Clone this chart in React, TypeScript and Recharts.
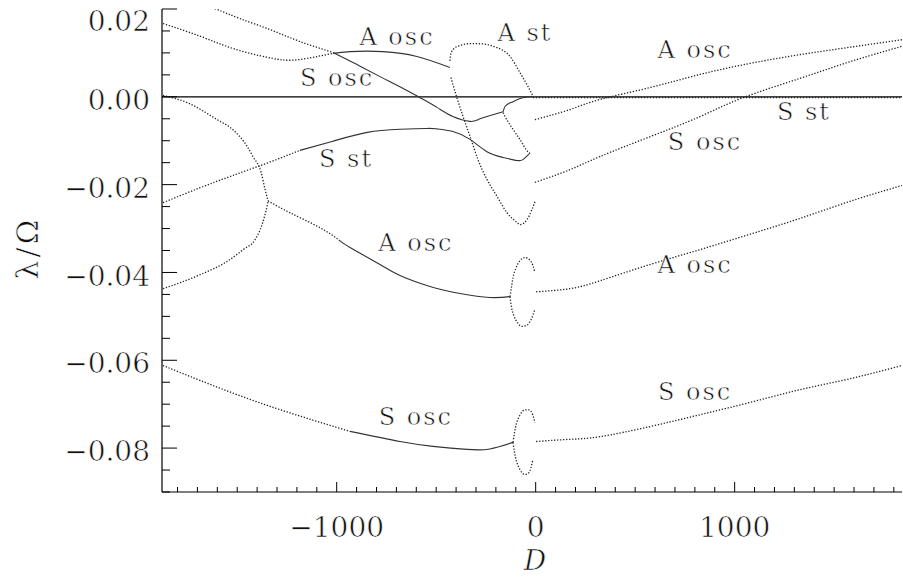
import React from 'react';
import { LineChart, Line, XAxis, YAxis, ReferenceLine, ReferenceDot } from 'recharts';

// ---- axis ticks ----
const xMajorTicks = [-1000, 0, 1000];
const xTicks = Array.from({ length: 37 }, (_, i) => -1800 + i * 100);
const yMajorTicks = [-0.08, -0.06, -0.04, -0.02, 0, 0.02];
const yTicks = Array.from({ length: 23 }, (_, i) => Math.round((-0.09 + i * 0.005) * 1000) / 1000);

// ---- curves (D, lambda/Omega) ----
const aOscUpperLeftD = [-1873, -1686, -1521, -1350, -1270, -1185, -1019];
const aOscUpperLeftL = [0.0167, 0.0138, 0.011, 0.009, 0.0084, 0.0085, 0.0099];
const aOscUpperLeft2D = [-1019, -933, -767, -597, -431];
const aOscUpperLeft2L = [0.0099, 0.0103, 0.0103, 0.0092, 0.0067];

const aStUpperD = [-431, -426, -410, -380, -330, -290, -194, -129, -79, -44, -14];
const aStUpperL = [0.0082, 0.0098, 0.011, 0.0117, 0.0121, 0.0121, 0.0112, 0.0092, 0.0055, 0.0028, 0.0002];
const aStLowerD = [-426, -396, -365, -330, -290, -245, -194, -144, -94, -79, -44, -19, -4];
const aStLowerL = [0.0044, -0.0002, -0.0045, -0.009, -0.0143, -0.0188, -0.0227, -0.0264, -0.0286, -0.0291, -0.028, -0.0257, -0.0239];

const sOscUpperLeftD = [-1711, -1601, -1485, -1335, -1185, -1019];
const sOscUpperLeftL = [0.0218, 0.0199, 0.0178, 0.0153, 0.0126, 0.0101];
const sOscUpperLeft2D = [-1019, -900, -782, -682, -581, -496, -416, -330, -290, -245, -164];
const sOscUpperLeft2L = [0.0101, 0.0074, 0.0046, 0.0023, -0.0002, -0.0024, -0.0045, -0.0056, -0.0052, -0.0045, -0.0034];
const sOscUpBranchD = [-164, -154, -114, -64, -14];
const sOscUpBranchL = [-0.0034, -0.0022, -0.0011, -0.0002, 0.0];
const sOscDownBranchD = [-164, -154, -114, -79, -39, -29];
const sOscDownBranchL = [-0.0036, -0.0045, -0.0074, -0.0097, -0.0125, -0.0128];

const sStLeftD = [-1873, -1686, -1521, -1350, -1185];
const sStLeftL = [-0.0241, -0.0207, -0.0179, -0.0151, -0.0122];
const sStLeft2D = [-1185, -1019, -846, -682, -546, -496, -416, -330, -245, -164, -94, -64, -39, -29];
const sStLeft2L = [-0.0122, -0.0101, -0.0081, -0.0074, -0.0072, -0.0073, -0.0079, -0.0097, -0.0125, -0.0138, -0.0145, -0.0143, -0.0133, -0.0128];

const aLoopUpperD = [-1873, -1752, -1601, -1521, -1450, -1421, -1380, -1360, -1345];
const aLoopUpperL = [0.0003, -0.0013, -0.0052, -0.0075, -0.0113, -0.0136, -0.0172, -0.0211, -0.0237];
const aLoopLowerD = [-1873, -1686, -1551, -1470, -1410, -1375, -1355, -1345];
const aLoopLowerL = [-0.0437, -0.0405, -0.0375, -0.0348, -0.0325, -0.0291, -0.0259, -0.0239];

const aOscLowerLeftD = [-1345, -1235, -1084, -983];
const aOscLowerLeftL = [-0.0237, -0.0264, -0.0298, -0.0328];
const aOscLowerLeft2D = [-983, -933, -782, -682, -531, -380, -230, -129];
const aOscLowerLeft2L = [-0.0328, -0.0343, -0.0382, -0.0407, -0.0432, -0.0448, -0.0457, -0.0455];
const aEllipseUpperD = [-129, -122, -114, -99, -79, -54, -29, -14, -4];
const aEllipseUpperL = [-0.0455, -0.0435, -0.0412, -0.039, -0.0373, -0.0366, -0.0372, -0.0384, -0.04];
const aEllipseLowerD = [-129, -122, -109, -89, -69, -44, -24, -4];
const aEllipseLowerL = [-0.0455, -0.0478, -0.0499, -0.0516, -0.0523, -0.052, -0.0508, -0.0484];
const aOscLowerRightD = [2, 172, 323, 574, 826, 1077, 1328, 1580, 1841];
const aOscLowerRightL = [-0.0444, -0.0437, -0.0419, -0.0382, -0.0348, -0.0313, -0.0277, -0.0238, -0.0202];

const sOscLowerLeftD = [-1873, -1686, -1436, -1185, -933];
const sOscLowerLeftL = [-0.0612, -0.0646, -0.0689, -0.0727, -0.0762];
const sOscLowerLeft2D = [-933, -682, -516, -345, -230, -114];
const sOscLowerLeft2L = [-0.0762, -0.0785, -0.0796, -0.0803, -0.0802, -0.0787];
const sEllipseUpperD = [-114, -107, -97, -79, -54, -34, -14, -4];
const sEllipseUpperL = [-0.0787, -0.0766, -0.0745, -0.0725, -0.0713, -0.0713, -0.0725, -0.0742];
const sEllipseLowerD = [-114, -107, -97, -79, -54, -34, -14];
const sEllipseLowerL = [-0.0787, -0.0808, -0.0829, -0.0849, -0.086, -0.0856, -0.0826];
const sOscLowerRightD = [2, 172, 323, 574, 826, 1077, 1328, 1580, 1841];
const sOscLowerRightL = [-0.0785, -0.078, -0.0774, -0.0751, -0.0724, -0.0696, -0.0667, -0.0642, -0.0612];

const aOscUpperRightD = [-4, 172, 323, 574, 826, 1077, 1328, 1580, 1841];
const aOscUpperRightL = [-0.0052, -0.0029, -0.0006, 0.0021, 0.0051, 0.0076, 0.0096, 0.0113, 0.013];
const sOscUpperRightD = [-4, 172, 323, 574, 826, 1042, 1328, 1580, 1841];
const sOscUpperRightL = [-0.0195, -0.0166, -0.0136, -0.0091, -0.0045, -0.0002, 0.0042, 0.008, 0.0115];
const sStRightD = [-14, 600, 1200, 1841];
const sStRightL = [-0.0002, -0.0002, -0.0002, -0.0002];

// ---- annotations ----
const noteText = ['A osc', 'A st', 'S osc', 'A osc', 'S st', 'S osc', 'S st', 'A osc', 'A osc', 'S osc', 'S osc'];
const noteD = [-697, -54, -998, 801, 1348, 851, -953, -602, 801, -602, 801];
const noteL = [0.0137, 0.0146, 0.0044, 0.0108, -0.0033, -0.0102, -0.0141, -0.0332, -0.0382, -0.0728, -0.0671];

type P = { x: number; y: number };
const pts = (d: number[], l: number[]): P[] => d.map((x, i) => ({ x, y: l[i] }));

type S = { data: P[]; solid: boolean; curve: 'natural' | 'monotone' };
const series: S[] = [
  { data: pts(aOscUpperLeftD, aOscUpperLeftL), solid: false, curve: 'natural' },
  { data: pts(aOscUpperLeft2D, aOscUpperLeft2L), solid: true, curve: 'natural' },
  { data: pts(aStUpperD, aStUpperL), solid: false, curve: 'monotone' },
  { data: pts(aStLowerD, aStLowerL), solid: false, curve: 'monotone' },
  { data: pts(sOscUpperLeftD, sOscUpperLeftL), solid: false, curve: 'natural' },
  { data: pts(sOscUpperLeft2D, sOscUpperLeft2L), solid: true, curve: 'natural' },
  { data: pts(sOscUpBranchD, sOscUpBranchL), solid: true, curve: 'monotone' },
  { data: pts(sOscDownBranchD, sOscDownBranchL), solid: false, curve: 'monotone' },
  { data: pts(sStLeftD, sStLeftL), solid: false, curve: 'natural' },
  { data: pts(sStLeft2D, sStLeft2L), solid: true, curve: 'natural' },
  { data: pts(aLoopUpperD, aLoopUpperL), solid: false, curve: 'monotone' },
  { data: pts(aLoopLowerD, aLoopLowerL), solid: false, curve: 'monotone' },
  { data: pts(aOscLowerLeftD, aOscLowerLeftL), solid: false, curve: 'natural' },
  { data: pts(aOscLowerLeft2D, aOscLowerLeft2L), solid: true, curve: 'natural' },
  { data: pts(aEllipseUpperD, aEllipseUpperL), solid: false, curve: 'monotone' },
  { data: pts(aEllipseLowerD, aEllipseLowerL), solid: false, curve: 'monotone' },
  { data: pts(aOscLowerRightD, aOscLowerRightL), solid: false, curve: 'natural' },
  { data: pts(sOscLowerLeftD, sOscLowerLeftL), solid: false, curve: 'natural' },
  { data: pts(sOscLowerLeft2D, sOscLowerLeft2L), solid: true, curve: 'natural' },
  { data: pts(sEllipseUpperD, sEllipseUpperL), solid: false, curve: 'monotone' },
  { data: pts(sEllipseLowerD, sEllipseLowerL), solid: false, curve: 'monotone' },
  { data: pts(sOscLowerRightD, sOscLowerRightL), solid: false, curve: 'natural' },
  { data: pts(aOscUpperRightD, aOscUpperRightL), solid: false, curve: 'natural' },
  { data: pts(sOscUpperRightD, sOscUpperRightL), solid: false, curve: 'natural' },
  { data: pts(sStRightD, sStRightL), solid: false, curve: 'monotone' },
];

const FONT = '"DejaVu Serif", serif';
const INK = '#111';
const thin = { stroke: '#fff', strokeWidth: 0.6 };

const fmtX = (v: number) => (v < 0 ? '\u2212' + Math.abs(v) : String(v));
const fmtY = (v: number) => (v < 0 ? '\u2212' + Math.abs(v).toFixed(2) : v.toFixed(2));
const isMajorY = (v: number) => yMajorTicks.some((t) => Math.abs(t - v) < 1e-9);

const BottomTick = (p: any) => {
  const { x, y, payload } = p;
  const major = xMajorTicks.includes(payload.value);
  return (
    <g>
      <line x1={x} x2={x} y1={y} y2={y - (major ? 10 : 5)} stroke="#000" strokeWidth={1} />
      {major && (
        <text x={x} y={y + 35} dy="0.36em" textAnchor="middle" fontFamily={FONT} fontSize={28} fill={INK} {...thin}>
          {fmtX(payload.value)}
        </text>
      )}
    </g>
  );
};

const TopTick = (p: any) => {
  const { x, y, payload } = p;
  const major = xMajorTicks.includes(payload.value);
  return <line x1={x} x2={x} y1={y} y2={y + (major ? 10 : 6)} stroke="#000" strokeWidth={1} />;
};

const LeftTick = (p: any) => {
  const { x, y, payload } = p;
  const major = isMajorY(payload.value);
  const cy = Math.max(y + 3, 21);
  return (
    <g>
      <line x1={x} x2={x + (major ? 15 : 8)} y1={y} y2={y} stroke="#000" strokeWidth={1} />
      {major && (
        <text x={x - 12} y={cy} dy="0.36em" textAnchor="end" fontFamily={FONT} fontSize={28} fill={INK} {...thin}>
          {fmtY(payload.value)}
        </text>
      )}
    </g>
  );
};

const RightTick = (p: any) => {
  const { x, y, payload } = p;
  const major = isMajorY(payload.value);
  return <line x1={x} x2={x - (major ? 10 : 6)} y1={y} y2={y} stroke="#000" strokeWidth={1} />;
};

export default function App() {
  return (
    <div style={{ position: 'absolute', left: 0, top: 0, width: 903, height: 577, background: '#fff' }}>
      <LineChart width={903} height={577} margin={{ top: 9, right: 1, bottom: 0, left: 0 }}>
        <XAxis
          xAxisId={0}
          type="number"
          dataKey="x"
          domain={[-1878, 1841]}
          allowDataOverflow
          ticks={xTicks}
          interval={0}
          tickSize={0}
          tickMargin={0}
          tickLine={false}
          height={85}
          axisLine={{ stroke: '#000', strokeWidth: 1.2 }}
          tick={<BottomTick />}
          label={{
            content: (props: any) => {
              const vb = props.viewBox || { x: 162, y: 492, width: 740 };
              return (
                <text
                  x={vb.x + vb.width / 2 + 3}
                  y={vb.y + 68}
                  dy="0.36em"
                  textAnchor="middle"
                  fontFamily={FONT}
                  fontStyle="italic"
                  fontSize={28}
                  fill={INK}
                  {...thin}
                >
                  D
                </text>
              );
            },
          }}
        />
        <XAxis
          xAxisId="top"
          orientation="top"
          type="number"
          dataKey="x"
          domain={[-1878, 1841]}
          allowDataOverflow
          ticks={xTicks}
          interval={0}
          tickSize={0}
          tickMargin={0}
          tickLine={false}
          height={0}
          axisLine={{ stroke: '#000', strokeWidth: 1.2 }}
          tick={<TopTick />}
        />
        <YAxis
          yAxisId={0}
          type="number"
          domain={[-0.09, 0.02]}
          allowDataOverflow
          ticks={yTicks}
          interval={0}
          tickSize={0}
          tickMargin={0}
          tickLine={false}
          width={162}
          axisLine={{ stroke: '#000', strokeWidth: 1.2 }}
          tick={<LeftTick />}
          label={{
            content: () => (
              <text
                transform="translate(27, 248) rotate(-90)"
                dy="0.36em"
                textAnchor="middle"
                fontFamily={FONT}
                fontSize={30}
                letterSpacing={3}
                fill={INK}
                {...thin}
              >
                λ/Ω
              </text>
            ),
          }}
        />
        <YAxis
          yAxisId="right"
          orientation="right"
          type="number"
          domain={[-0.09, 0.02]}
          allowDataOverflow
          ticks={yTicks}
          interval={0}
          tickSize={0}
          tickMargin={0}
          tickLine={false}
          width={0}
          axisLine={{ stroke: '#000', strokeWidth: 1.2 }}
          tick={<RightTick />}
        />
        <ReferenceLine y={0} stroke="#000" strokeWidth={1.2} />
        {series.map((s, i) => (
          <Line
            key={i}
            data={s.data}
            dataKey="y"
            type={s.curve}
            stroke={s.solid ? '#333' : '#222'}
            strokeWidth={s.solid ? 1.1 : 1.3}
            strokeDasharray={s.solid ? undefined : '1.3 1.7'}
            dot={false}
            activeDot={false}
            isAnimationActive={false}
          />
        ))}
        {noteText.map((t, i) => (
          <ReferenceDot
            key={'n' + i}
            x={noteD[i]}
            y={noteL[i]}
            r={0}
            ifOverflow="visible"
            shape={(p: any) => (
              <text
                x={p.cx}
                y={p.cy}
                dy="0.36em"
                textAnchor="middle"
                fontFamily={FONT}
                fontSize={24}
                letterSpacing={2}
                fill={INK}
                {...thin}
              >
                {t}
              </text>
            )}
          />
        ))}
      </LineChart>
    </div>
  );
}
